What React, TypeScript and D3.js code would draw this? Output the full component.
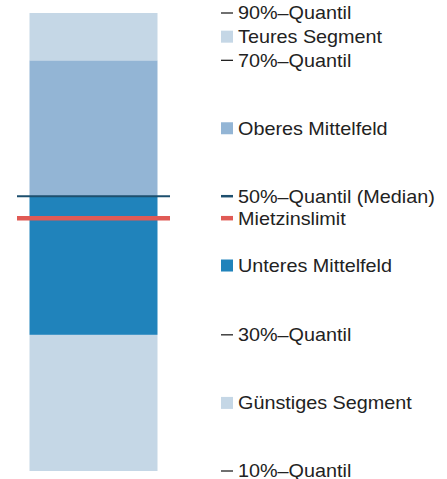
import React, { useEffect, useRef } from "react"
import * as d3 from "d3"

// quantiles (CHF)
const quantileLabels = ["10%–Quantil", "30%–Quantil", "50%–Quantil (Median)", "70%–Quantil", "90%–Quantil"]
const quantileValues = [1500, 1946, 2400, 2845, 3000]
const segmentLabels = ["Günstiges Segment", "Unteres Mittelfeld", "Oberes Mittelfeld", "Teures Segment"]
const segmentColors = ["#c5d7e6", "#2083bb", "#93b5d5", "#c5d7e6"]
const limitLabel = "Mietzinslimit"
const limitValue = 2328

export default function App() {
  const svgRef = useRef<SVGSVGElement>(null)

  useEffect(() => {
    const width = 447, height = 479
    const svg = d3.select(svgRef.current)
    svg.selectAll("*").remove()

    const y = d3.scaleLinear()
      .domain([quantileValues[0], quantileValues[4]])
      .range([471, 13])

    const barX = 29.5, barW = 128
    const lineX1 = 17, lineX2 = 170

    const segments = segmentLabels.map((label, i) => ({
      label,
      lo: quantileValues[i],
      hi: quantileValues[i + 1],
      color: segmentColors[i]
    }))

    svg.selectAll("rect.seg")
      .data(segments)
      .enter()
      .append("rect")
      .attr("class", "seg")
      .attr("x", barX)
      .attr("width", barW)
      .attr("y", d => y(d.hi))
      .attr("height", d => y(d.lo) - y(d.hi))
      .attr("fill", d => d.color)

    // median
    svg.append("line")
      .attr("x1", lineX1).attr("x2", lineX2)
      .attr("y1", y(quantileValues[2])).attr("y2", y(quantileValues[2]))
      .attr("stroke", "#1d4f6e").attr("stroke-width", 2)

    // limit
    svg.append("line")
      .attr("x1", lineX1).attr("x2", lineX2)
      .attr("y1", y(limitValue)).attr("y2", y(limitValue))
      .attr("stroke", "#e05a55").attr("stroke-width", 4.5)

    // legend
    const keyX = 221, textX = 238
    type Item = { label: string, pos: number, kind: string, color: string, sw: number }
    const items: Item[] = []
    quantileLabels.forEach((label, i) => {
      const isMedian = i === 2
      items.push({ label, pos: y(quantileValues[i]), kind: "line",
        color: isMedian ? "#1d4f6e" : "#222", sw: isMedian ? 2.5 : 1.3 })
    })
    segments.forEach(s => {
      items.push({ label: s.label, pos: (y(s.lo) + y(s.hi)) / 2, kind: "rect", color: s.color, sw: 0 })
    })
    items.push({ label: limitLabel, pos: y(limitValue), kind: "line", color: "#e05a55", sw: 4.5 })

    const g = svg.append("g")
    items.forEach(it => {
      if (it.kind === "line") {
        g.append("line")
          .attr("x1", keyX).attr("x2", keyX + 12)
          .attr("y1", it.pos).attr("y2", it.pos)
          .attr("stroke", it.color).attr("stroke-width", it.sw)
      } else {
        g.append("rect")
          .attr("x", keyX).attr("y", it.pos - 6)
          .attr("width", 12).attr("height", 12)
          .attr("fill", it.color)
      }
      // reference glyphs are a bit wider than Liberation Sans
      g.append("text")
        .attr("transform", `translate(${textX},${it.pos}) scale(1.1,1)`)
        .attr("dy", "0.358em")
        .attr("font-family", "Liberation Sans, Arial, sans-serif")
        .attr("font-size", 18)
        .attr("fill", "#222")
        .text(it.label)
    })

    svg.attr("width", width).attr("height", height)
  }, [])

  return (
    <svg ref={svgRef} width={447} height={479}
      style={{ position: "absolute", left: 0, top: 0 }} />
  )
}
